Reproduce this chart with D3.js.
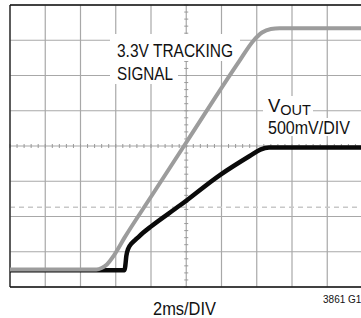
<!DOCTYPE html>
<html>
<head>
<meta charset="utf-8">
<script src="https://cdn.jsdelivr.net/npm/d3@7"></script>
<style>
  html, body { margin: 0; padding: 0; background: #fff; }
  svg { display: block; }
  text { font-family: "Liberation Sans", Arial, sans-serif; fill: #111; }
</style>
</head>
<body>
<div id="chart"></div>
<script>
// scope traces, time in ms (2ms/DIV), volts (500mV/DIV)
const trackTime = [0, 4.9, 5.2, 5.5, 5.9, 6.5, 8.0, 10.0, 13.0, 13.8, 14.3, 14.8, 15.3, 20];
const trackVolts = [0, 0, 0.02, 0.07, 0.2, 0.45, 1.03, 1.8, 2.95, 3.24, 3.36, 3.41, 3.42, 3.42];

const voutTime = [0, 6.5, 6.55, 6.6, 6.7, 6.9, 7.2, 7.55, 8.0, 9.65, 11.97, 13.6, 14.2, 14.7, 20];
const voutVolts = [0, 0, 0.08, 0.2, 0.3, 0.38, 0.45, 0.53, 0.62, 0.92, 1.36, 1.62, 1.71, 1.74, 1.74];

const refLevel = 0.88;

const labelTrack = ["3.3V TRACKING", "SIGNAL"];
const labelVout = ["V", "OUT", "500mV/DIV"];
const labelTime = "2ms/DIV";
const labelFig = "3861 G14";

const width = 361, height = 318;
const plotLeft = 10, plotTop = 5, divW = 35.25, divH = 35.25;

const x = d3.scaleLinear().domain([0, 20]).range([plotLeft, plotLeft + 10 * divW]);
const y = d3.scaleLinear().domain([-0.25, 3.75]).range([plotTop + 8 * divH, plotTop]);

const svg = d3.select('#chart').append('svg')
    .attr('width', width)
    .attr('height', height);

const grid = svg.append('g');

// major grid
grid.selectAll('.vgrid')
    .data(d3.range(0, 20.01, 2))
    .join('line')
    .attr('x1', d => x(d)).attr('x2', d => x(d))
    .attr('y1', y(3.75)).attr('y2', y(-0.25))
    .attr('stroke', '#a8a8a8')
    .attr('stroke-width', 1.2);

grid.selectAll('.hgrid')
    .data(d3.range(-0.25, 3.76, 0.5))
    .join('line')
    .attr('x1', x(0)).attr('x2', x(20))
    .attr('y1', d => y(d)).attr('y2', d => y(d))
    .attr('stroke', '#a8a8a8')
    .attr('stroke-width', 1.2);

// dashed reference
grid.append('line')
    .attr('x1', x(0)).attr('x2', x(20))
    .attr('y1', y(refLevel)).attr('y2', y(refLevel))
    .attr('stroke', '#c8c8c8')
    .attr('stroke-width', 1.5)
    .attr('stroke-dasharray', '5,4');

// minor ticks on the centre lines
grid.selectAll('.htick')
    .data(d3.range(0, 20.01, 0.4))
    .join('line')
    .attr('x1', d => x(d)).attr('x2', d => x(d))
    .attr('y1', y(1.75) - 2).attr('y2', y(1.75) + 2)
    .attr('stroke', '#999')
    .attr('stroke-width', 1);

grid.selectAll('.vtick')
    .data(d3.range(-0.25, 3.76, 0.1))
    .join('line')
    .attr('x1', x(10) - 2).attr('x2', x(10) + 2)
    .attr('y1', d => y(d)).attr('y2', d => y(d))
    .attr('stroke', '#999')
    .attr('stroke-width', 1);

// frame
svg.append('line')
    .attr('x1', x(0)).attr('x2', width).attr('y1', y(3.75)).attr('y2', y(3.75))
    .attr('stroke', '#111').attr('stroke-width', 1.5);
svg.append('line')
    .attr('x1', x(0)).attr('x2', width).attr('y1', y(-0.25)).attr('y2', y(-0.25))
    .attr('stroke', '#111').attr('stroke-width', 1.5);
svg.append('line')
    .attr('x1', x(0)).attr('x2', x(0)).attr('y1', y(3.75)).attr('y2', y(-0.25))
    .attr('stroke', '#111').attr('stroke-width', 1.2);

// labels with white boxes
function fitText(g, str, px, py, size, len) {
    return g.append('text')
        .attr('x', px).attr('y', py)
        .attr('font-size', size)
        .attr('textLength', len)
        .attr('lengthAdjust', 'spacingAndGlyphs')
        .text(str);
}

const labels = svg.append('g');
const boxes = labels.append('g');

boxes.append('rect').attr('x', 110).attr('y', 34).attr('width', 130).attr('height', 27).attr('fill', '#fff');
boxes.append('rect').attr('x', 110).attr('y', 61).attr('width', 68).attr('height', 23).attr('fill', '#fff');
boxes.append('rect').attr('x', 263).attr('y', 96).attr('width', 50).attr('height', 22).attr('fill', '#fff');
boxes.append('rect').attr('x', 263).attr('y', 118).attr('width', 92).attr('height', 18).attr('fill', '#fff');

fitText(labels, labelTrack[0], 117, 57, 18.5, 116);
fitText(labels, labelTrack[1], 117, 80, 18.5, 56);

let vt = labels.append('text').attr('x', 268).attr('y', 112).attr('font-size', 18.5);
vt.append('tspan').text(labelVout[0]);
vt.append('tspan').attr('font-size', 14.5).attr('dy', 2.5).text(labelVout[1]);
fitText(labels, labelVout[2], 268, 134, 18.5, 82);

fitText(labels, labelTime, 153, 315, 19, 63);
fitText(labels, labelFig, 323, 303, 11, 44);

// traces
const line = d3.line()
    .x(d => x(d[0]))
    .y(d => y(d[1]))
    .curve(d3.curveMonotoneX);

svg.append('path')
    .datum(d3.zip(voutTime, voutVolts))
    .attr('d', line)
    .attr('fill', 'none')
    .attr('stroke', '#0a0a0a')
    .attr('stroke-width', 4.5)
    .attr('transform', 'translate(0,0.8)');

svg.append('path')
    .datum(d3.zip(trackTime, trackVolts))
    .attr('d', line)
    .attr('fill', 'none')
    .attr('stroke', '#9c9c9c')
    .attr('stroke-width', 4);
</script>
</body>
</html>
